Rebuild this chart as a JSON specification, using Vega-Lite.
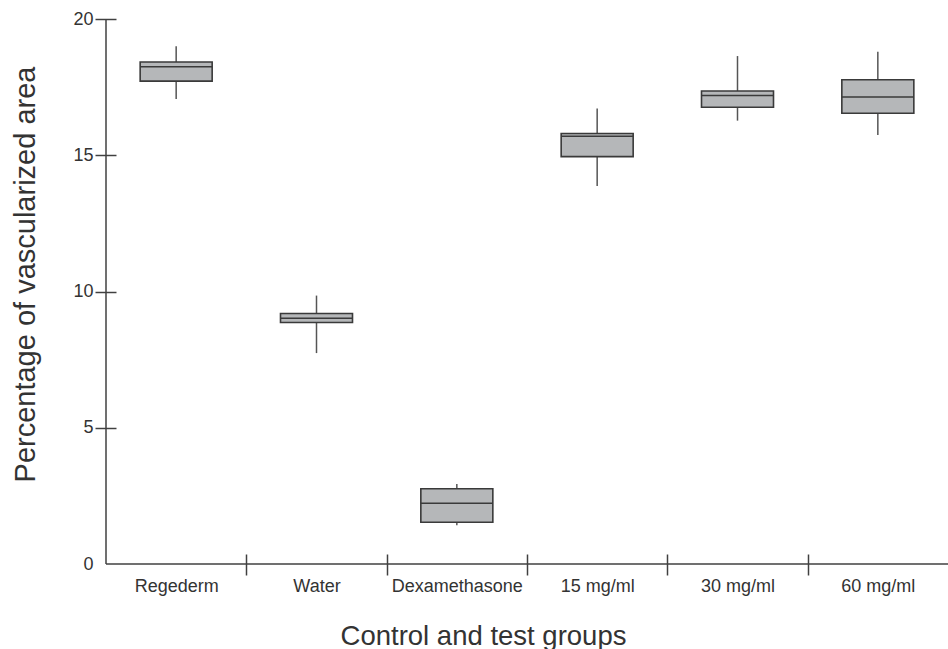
{
  "$schema": "https://vega.github.io/schema/vega-lite/v6.json",
  "autosize": {"type": "none"},
  "padding": {"left": 106, "top": 19, "right": 0, "bottom": 85},
  "width": 842,
  "height": 545,
  "background": "white",
  "config": {
    "view": {"stroke": null},
    "font": "Liberation Sans",
    "axis": {"labelFont": "Liberation Sans", "titleFont": "Liberation Sans", "labelColor": "#333333", "titleColor": "#333333", "titleFontWeight": "normal"}
  },
  "datasets": {
    "boxes": [
      {"group": "Regederm", "lower": 17.06, "q1": 17.72, "median": 18.25, "q3": 18.42, "upper": 19.0},
      {"group": "Water", "lower": 7.74, "q1": 8.86, "median": 9.02, "q3": 9.19, "upper": 9.85},
      {"group": "Dexamethasone", "lower": 1.42, "q1": 1.53, "median": 2.23, "q3": 2.76, "upper": 2.94},
      {"group": "15 mg/ml", "lower": 13.87, "q1": 14.95, "median": 15.7, "q3": 15.8, "upper": 16.72},
      {"group": "30 mg/ml", "lower": 16.27, "q1": 16.76, "median": 17.19, "q3": 17.36, "upper": 18.64},
      {"group": "60 mg/ml", "lower": 15.74, "q1": 16.54, "median": 17.14, "q3": 17.77, "upper": 18.8}
    ],
    "origin": [{"group": "Regederm"}]
  },
  "layer": [
    {
      "data": {"name": "boxes"},
      "mark": {"type": "rule", "color": "#555555", "strokeWidth": 1.5},
      "encoding": {
        "x": {
          "field": "group", "type": "nominal",
          "sort": ["Regederm", "Water", "Dexamethasone", "15 mg/ml", "30 mg/ml", "60 mg/ml"],
          "scale": {"paddingInner": 0, "paddingOuter": 0},
          "axis": {
            "title": "Control and test groups",
            "titleFontSize": 27.5,
            "titleX": 377,
            "titleY": 90,
            "titleAlign": "center",
            "titleBaseline": "alphabetic",
            "labelFontSize": 18,
            "labelAngle": 0,
            "labelPadding": 2,
            "labelBaseline": "top",
            "offset": -10,
            "domain": false,
            "tickBand": "extent",
            "tickSize": 21,
            "tickColor": "#404040",
            "tickWidth": 1.5,
            "tickOpacity": {"condition": {"test": "datum.index === -1 || datum.value === '60 mg/ml'", "value": 0}, "value": 1}
          }
        },
        "y": {
          "field": "lower", "type": "quantitative",
          "scale": {"domain": [0, 20], "nice": false},
          "axis": {
            "title": "Percentage of vascularized area",
            "titleFontSize": 29,
            "titleAngle": -90,
            "titleX": -82,
            "titleY": 255,
            "titleAlign": "center",
            "titleBaseline": "alphabetic",
            "values": [0, 5, 10, 15, 20],
            "labelFontSize": 18,
            "labelPadding": 2,
            "offset": -10,
            "domain": false,
            "grid": false,
            "tickSize": 21,
            "tickColor": "#404040",
            "tickWidth": 1.5,
            "tickOpacity": {"condition": {"test": "datum.value === 0", "value": 0}, "value": 1}
          }
        },
        "y2": {"field": "upper"}
      }
    },
    {
      "data": {"name": "boxes"},
      "mark": {"type": "bar", "size": 72, "fill": "#b5b7b9", "stroke": "#3a3a3a", "strokeWidth": 1.6},
      "encoding": {
        "x": {"field": "group", "type": "nominal", "sort": ["Regederm", "Water", "Dexamethasone", "15 mg/ml", "30 mg/ml", "60 mg/ml"]},
        "y": {"field": "q1", "type": "quantitative"},
        "y2": {"field": "q3"}
      }
    },
    {
      "data": {"name": "boxes"},
      "mark": {"type": "tick", "size": 72, "thickness": 1.6, "color": "#3a3a3a", "opacity": 1},
      "encoding": {
        "x": {"field": "group", "type": "nominal", "sort": ["Regederm", "Water", "Dexamethasone", "15 mg/ml", "30 mg/ml", "60 mg/ml"]},
        "y": {"field": "median", "type": "quantitative"}
      }
    },
    {
      "data": {"name": "origin"},
      "mark": {"type": "rule", "color": "#404040", "strokeWidth": 1.5},
      "encoding": {"y": {"datum": 0}}
    },
    {
      "data": {"name": "origin"},
      "mark": {"type": "rule", "color": "#404040", "strokeWidth": 1.5},
      "encoding": {
        "x": {"field": "group", "type": "nominal", "bandPosition": 0, "sort": ["Regederm", "Water", "Dexamethasone", "15 mg/ml", "30 mg/ml", "60 mg/ml"]},
        "y": {"datum": 0},
        "y2": {"datum": 20}
      }
    }
  ]
}
